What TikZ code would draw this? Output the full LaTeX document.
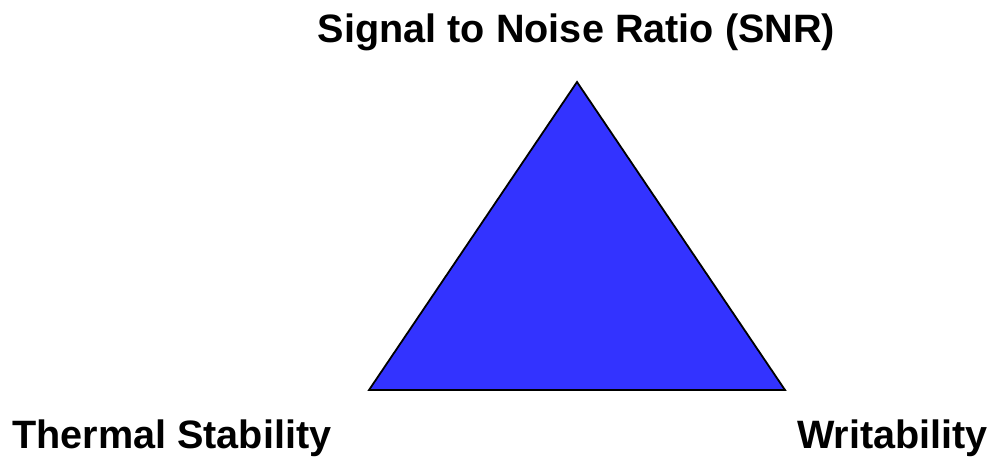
\documentclass[tikz,border=0pt]{standalone}
\usepackage{fontspec}
\setmainfont{Liberation Sans}
\definecolor{triblue}{RGB}{51,51,255}
\begin{document}
\begin{tikzpicture}[x=1pt,y=-1pt,
  lbl/.style={font=\fontsize{39.6}{44}\selectfont\bfseries, inner sep=0pt}]
\useasboundingbox (0,0) rectangle (995,460);
\coordinate (top) at (577,82);
\coordinate (bl) at (369,390);
\coordinate (br) at (785,390);
\filldraw[fill=triblue, draw=black, line width=1.8pt, line join=miter] (top) -- (bl) -- (br) -- cycle;
\node[lbl, anchor=base] (snr) at (576.5,43) {Signal to Noise Ratio (SNR)};
\node[lbl, anchor=base west] (therm) at (12,448) {Thermal Stability};
\node[lbl, anchor=base east] (writ) at (988,448) {Writability};
\end{tikzpicture}
\end{document}
